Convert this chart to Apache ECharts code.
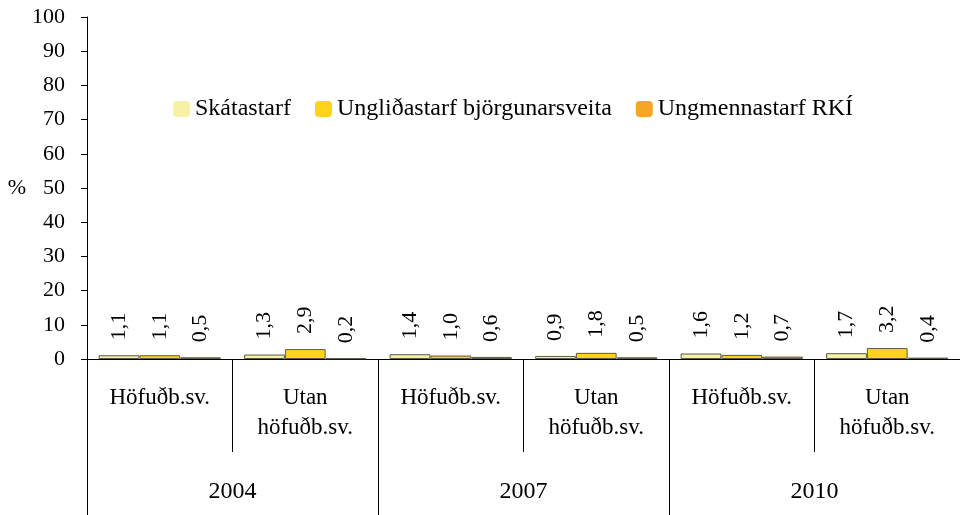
<!DOCTYPE html>
<html>
<head>
<meta charset="utf-8">
<title>Chart</title>
<script src="https://cdn.jsdelivr.net/npm/echarts@6/dist/echarts.min.js"></script>
<style>
  html, body { margin: 0; padding: 0; background: #fff; }
  #chart { width: 960px; height: 515px; }
</style>
</head>
<body>
<div id="chart"></div>
<script>
// categories: area within each survey year
const areas = ['Höfuðb.sv.', 'Utan\nhöfuðb.sv.', 'Höfuðb.sv.', 'Utan\nhöfuðb.sv.', 'Höfuðb.sv.', 'Utan\nhöfuðb.sv.']
const years = ['2004', '2007', '2010']

const seriesNames = ['Skátastarf', 'Ungliðastarf björgunarsveita', 'Ungmennastarf RKÍ']
const skatastarf = [1.1, 1.3, 1.4, 0.9, 1.6, 1.7]
const unglidastarf = [1.1, 2.9, 1.0, 1.8, 1.2, 3.2]
const ungmennastarf = [0.5, 0.2, 0.6, 0.5, 0.7, 0.4]

const yTicks = { min: 0, max: 100, interval: 10 }

const colors = ['#F6F1A6', '#FFD31C', '#F5A623']
const font = 'Liberation Serif'

const chart = echarts.init(document.getElementById('chart'))

// data label: rotated, comma decimal
const barLabel = {
    show: true,
    position: 'top',
    rotate: 90,
    align: 'left',
    verticalAlign: 'middle',
    distance: 15,
    color: '#000',
    fontFamily: font,
    fontSize: 22,
    formatter: p => p.value.toFixed(1).replace('.', ',')
}

function makeBar (name, data, color) {
    return {
        name,
        type: 'bar',
        data,
        barGap: '0%',
        barCategoryGap: '16%',
        itemStyle: { color, borderColor: '#5a5a4a', borderWidth: 1 },
        label: barLabel
    }
}

chart.setOption({
    animation: false,
    color: colors,
    textStyle: { fontFamily: font },
    grid: { left: 87, right: 0, top: 17, bottom: 156 },
    legend: {
        left: 168,
        top: 92,
        itemWidth: 17,
        itemHeight: 16,
        itemGap: 24,
        icon: 'roundRect',
        itemStyle: { borderWidth: 0 },
        textStyle: { fontFamily: font, fontSize: 24, color: '#000' },
        data: seriesNames
    },
    xAxis: [
        {
            type: 'category',
            data: areas,
            axisLine: { show: true, lineStyle: { color: '#000', width: 1 } },
            axisTick: { show: true, interval: 0, length: 93, lineStyle: { color: '#000' } },
            axisLabel: {
                interval: 0,
                margin: 24,
                lineHeight: 30,
                color: '#000',
                fontFamily: font,
                fontSize: 23
            }
        },
        {
            type: 'category',
            data: years,
            position: 'bottom',
            axisLine: { show: false },
            axisTick: { show: true, interval: 0, length: 156, lineStyle: { color: '#000' } },
            axisLabel: {
                interval: 0,
                margin: 118,
                lineHeight: 30,
                color: '#000',
                fontFamily: font,
                fontSize: 24
            }
        }
    ],
    yAxis: {
        type: 'value',
        min: yTicks.min,
        max: yTicks.max,
        interval: yTicks.interval,
        name: '%',
        nameLocation: 'middle',
        nameRotate: 0,
        nameGap: 59,
        nameTextStyle: { color: '#000', fontFamily: font, fontSize: 22, padding: [0, 0, 6, 0] },
        axisLine: { show: true, lineStyle: { color: '#000', width: 1 } },
        axisTick: { show: true, length: 6, lineStyle: { color: '#000' } },
        axisLabel: { margin: 22, color: '#000', fontFamily: font, fontSize: 22 },
        splitLine: { show: false }
    },
    series: [
        makeBar(seriesNames[0], skatastarf, colors[0]),
        makeBar(seriesNames[1], unglidastarf, colors[1]),
        makeBar(seriesNames[2], ungmennastarf, colors[2])
    ]
})
</script>
</body>
</html>
